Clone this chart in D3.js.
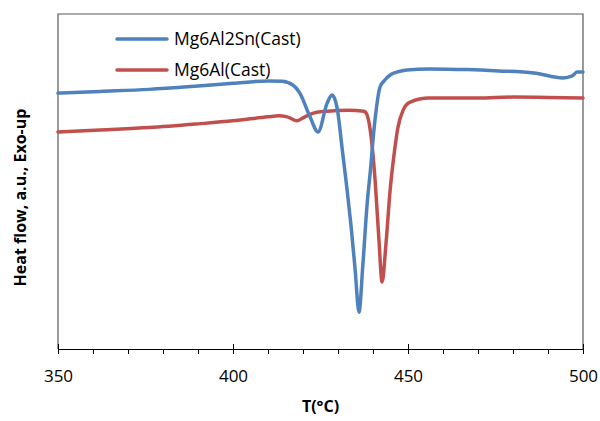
<!DOCTYPE html>
<html>
<head>
<meta charset="utf-8">
<script src="https://cdn.jsdelivr.net/npm/d3@7"></script>
<style>
  html, body { margin: 0; padding: 0; background: #fff; }
  svg { display: block; font-family: "Open Sans", "Liberation Sans", sans-serif; }
</style>
</head>
<body>
<svg id="chart" width="600" height="421"></svg>
<script>
// DSC traces: temperature (°C) and heat flow (arbitrary units, exo up)
const sn_T = [350, 362, 376, 390, 400, 410, 414, 417.1, 419.1, 422, 424.3, 426.9, 428.3, 429.7,
  431.4, 432.6, 433.7, 434.9, 436, 437.1, 438.3, 439.4, 440, 440.9, 442, 443.4, 444.9, 447, 449.7,
  456, 467, 476, 486, 494.3, 496.9, 498.3, 500];
const sn_HF = [76.4, 76.9, 77.5, 78.5, 79.3, 80.0, 79.9, 78.8, 76.4, 69.3, 64.8, 73.4, 75.8, 72.2,
  57.9, 47.5, 37.0, 23.6, 11.0, 25.1, 43.0, 54.9, 62.4, 71.3, 78.2, 80.3, 81.8, 82.7, 83.3,
  83.6, 83.4, 83.0, 82.4, 80.9, 81.5, 82.7, 82.7];

const al_T = [350, 362, 376, 390, 400, 410, 413, 415.5, 418.3, 420, 423, 427, 433, 437.4, 438.3,
  439.4, 440.6, 441.7, 442.6, 443.7, 444.9, 446, 447.1, 448.6, 450.6, 456, 460, 470, 480, 490, 500];
const al_HF = [64.8, 65.4, 66.1, 67.2, 68.1, 69.3, 69.6, 69.3, 68.1, 69.0, 70.4, 71.0, 71.3, 71.0, 69.9,
  63.9, 50.4, 32.5, 20.0, 31.3, 47.5, 57.9, 66.0, 71.3, 73.7, 74.9, 74.9, 74.9, 75.2, 75.1, 74.9];

const seriesNames = ["Mg6Al2Sn(Cast)", "Mg6Al(Cast)"];
const seriesColors = ["#4F81BD", "#C0504D"];
const xTicks = [350, 400, 450, 500];
const xTitle = "T(°C)";
const yTitle = "Heat flow, a.u., Exo-up";

const svg = d3.select("#chart");
const m = { left: 58, right: 583, top: 14, bottom: 349 };

const x = d3.scaleLinear().domain([350, 500]).range([m.left, m.right]);
const y = d3.scaleLinear().domain([0, 100]).range([m.bottom, m.top]);

// plot frame (top, left, right)
svg.append("path")
  .attr("d", `M${m.left},${m.bottom}V${m.top}H${m.right}V${m.bottom}`)
  .attr("fill", "none").attr("stroke", "#595959").attr("stroke-width", 1.2);

// minor ticks every 10 °C, below the axis
const minor = d3.axisBottom(x).tickValues(d3.range(350, 501, 10)).tickSize(5).tickFormat("");
svg.append("g").attr("transform", `translate(0,${m.bottom})`).call(minor)
  .call(g => g.select(".domain").remove())
  .call(g => g.selectAll("line").attr("stroke", "#000"));

// major ticks crossing the axis, with labels
const major = d3.axisBottom(x).tickValues(xTicks).tickSizeInner(5).tickSizeOuter(0).tickPadding(16);
const gx = svg.append("g").attr("transform", `translate(0,${m.bottom})`).call(major);
gx.select(".domain").attr("stroke", "#000").attr("stroke-width", 1.2);
gx.selectAll(".tick line").attr("y1", -5).attr("y2", 5).attr("stroke", "#000");
gx.selectAll(".tick text").attr("font-size", 17).attr("fill", "#000")
  .style("font-family", "'Open Sans', sans-serif");

// curves
const line = d3.line().x(d => x(d[0])).y(d => y(d[1])).curve(d3.curveMonotoneX);
const data = [d3.zip(sn_T, sn_HF), d3.zip(al_T, al_HF)];
// red first so blue lies on top
[1, 0].forEach(i => {
  svg.append("path").datum(data[i])
    .attr("d", line)
    .attr("fill", "none")
    .attr("stroke", seriesColors[i])
    .attr("stroke-width", 3.5)
    .attr("stroke-linejoin", "round")
    .attr("stroke-linecap", "round");
});

// legend
const legY = [39, 70];
seriesNames.forEach((name, i) => {
  svg.append("line")
    .attr("x1", 117).attr("x2", 167).attr("y1", legY[i]).attr("y2", legY[i])
    .attr("stroke", seriesColors[i]).attr("stroke-width", 3.5).attr("stroke-linecap", "round");
  svg.append("text")
    .attr("x", 174).attr("y", legY[i]).attr("dy", "0.35em")
    .attr("font-size", 17.5).attr("fill", "#000")
    .text(name);
});

// axis titles
svg.append("text")
  .attr("x", (m.left + m.right) / 2).attr("y", 412)
  .attr("text-anchor", "middle").attr("font-size", 16).attr("font-weight", "bold")
  .text(xTitle);
svg.append("text")
  .attr("transform", `translate(26,${(m.top + m.bottom) / 2 + 16}) rotate(-90)`)
  .attr("text-anchor", "middle").attr("font-size", 16).attr("font-weight", "bold")
  .text(yTitle);
</script>
</body>
</html>
